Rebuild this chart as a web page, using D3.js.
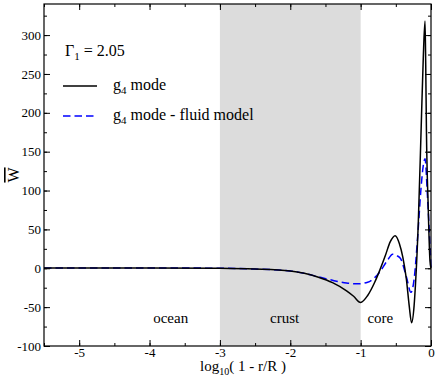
<!DOCTYPE html>
<html>
<head>
<meta charset="utf-8">
<script src="https://cdn.jsdelivr.net/npm/d3@7"></script>
<style>
  body { margin: 0; background: #fff; }
</style>
</head>
<body>
<svg width="436" height="381" style="font-family:'Liberation Serif'"></svg>
<script>
"use strict";

// data
const xTicks = [-5, -4, -3, -2, -1, 0];
const yTicks = [-100, -50, 0, 50, 100, 150, 200, 250, 300];
const crust = [-3, -1];
const regions = [
  { name: "ocean", x: -3.7 },
  { name: "crust", x: -2.08 },
  { name: "core", x: -0.72 }
];

const gMode = [
  [-5.5, 0.5], [-4, 0.5], [-3, 0], [-2.5, -1], [-2, -3.5], [-1.8, -6.5],
  [-1.6, -11.5], [-1.4, -18.5], [-1.2, -29], [-1.1, -36], [-1.0, -44],
  [-0.9, -35], [-0.8, -18], [-0.73, -3], [-0.65, 16], [-0.58, 34],
  [-0.51, 42], [-0.45, 32], [-0.4, 14], [-0.35, -14], [-0.31, -48],
  [-0.276, -70], [-0.24, -48], [-0.22, -20], [-0.18, 60], [-0.14, 180],
  [-0.11, 270], [-0.085, 318], [-0.075, 262], [-0.065, 178], [-0.04, 80],
  [-0.015, 10], [0, 0]
];
const gFluid = [
  [-5.5, 0.5], [-4, 0.5], [-3, 0], [-2.5, -1], [-2, -3.5], [-1.8, -6.5],
  [-1.6, -11], [-1.4, -15.5], [-1.2, -19], [-1.05, -20], [-0.9, -18],
  [-0.8, -12], [-0.73, -5], [-0.62, 10], [-0.545, 18], [-0.48, 16],
  [-0.43, 12], [-0.35, -11], [-0.285, -31], [-0.24, -14], [-0.19, 40],
  [-0.14, 105], [-0.11, 132], [-0.085, 141], [-0.05, 92], [-0.025, 49],
  [0, 0]
];

const SERIF = "'Liberation Serif', 'Times New Roman', serif";
const pLeft = 44, pRight = 431, pTop = 4, pBottom = 346;
const svg = d3.select("svg");

const x = d3.scaleLinear().domain([-5.5, 0]).range([pLeft, pRight]);
const y = d3.scaleLinear().domain([-100, 340]).range([pBottom, pTop]);

// shaded crust band
svg.append("rect")
  .attr("x", x(crust[0]))
  .attr("y", pTop)
  .attr("width", x(crust[1]) - x(crust[0]))
  .attr("height", pBottom - pTop)
  .style("fill", "#dcdcdc");

// region names
svg.selectAll(".region")
  .data(regions)
  .enter().append("text")
  .attr("x", d => x(d.x))
  .attr("y", 323)
  .attr("text-anchor", "middle")
  .style("font-family", SERIF)
  .style("font-size", "15px")
  .text(d => d.name);

// curves
const line = d3.line()
  .x(d => x(d[0]))
  .y(d => y(d[1]))
  .curve(d3.curveMonotoneX);

svg.append("path")
  .datum(gFluid)
  .attr("d", line)
  .style("fill", "none")
  .style("stroke", "#0000ff")
  .style("stroke-width", "1.5px")
  .style("stroke-dasharray", "7.5,4");

svg.append("path")
  .datum(gMode)
  .attr("d", line)
  .style("fill", "none")
  .style("stroke", "black")
  .style("stroke-width", "1.5px");

// axes: ticks point inwards on all four sides
const minorX = d3.range(-5.5, 0.01, 0.5);
const minorY = d3.range(-100, 341, 25);

function styleAxis(g) {
  g.attr("font-family", null);
  g.select(".domain").remove();
  g.selectAll("line").style("stroke", "black");
  g.selectAll("text")
    .style("font-family", SERIF)
    .style("font-size", "13px")
    .style("fill", "black");
}

svg.append("g")
  .attr("transform", `translate(0,${pBottom})`)
  .call(d3.axisBottom(x).tickValues(minorX).tickSize(-3).tickFormat(""))
  .call(styleAxis);
svg.append("g")
  .attr("transform", `translate(0,${pBottom})`)
  .call(d3.axisBottom(x).tickValues(xTicks).tickSize(-6).tickPadding(2).tickFormat(d => String(d)))
  .call(styleAxis);
svg.append("g")
  .attr("transform", `translate(0,${pTop})`)
  .call(d3.axisTop(x).tickValues(minorX).tickSize(-3).tickFormat(""))
  .call(styleAxis);
svg.append("g")
  .attr("transform", `translate(0,${pTop})`)
  .call(d3.axisTop(x).tickValues(xTicks).tickSize(-6).tickFormat(""))
  .call(styleAxis);

svg.append("g")
  .attr("transform", `translate(${pLeft},0)`)
  .call(d3.axisLeft(y).tickValues(minorY).tickSize(-3).tickFormat(""))
  .call(styleAxis);
svg.append("g")
  .attr("transform", `translate(${pLeft},0)`)
  .call(d3.axisLeft(y).tickValues(yTicks).tickSize(-6).tickPadding(3).tickFormat(d => String(d)))
  .call(styleAxis);
svg.append("g")
  .attr("transform", `translate(${pRight},0)`)
  .call(d3.axisRight(y).tickValues(minorY).tickSize(-3).tickFormat(""))
  .call(styleAxis);
svg.append("g")
  .attr("transform", `translate(${pRight},0)`)
  .call(d3.axisRight(y).tickValues(yTicks).tickSize(-6).tickFormat(""))
  .call(styleAxis);

// frame
svg.append("rect")
  .attr("x", pLeft).attr("y", pTop)
  .attr("width", pRight - pLeft).attr("height", pBottom - pTop)
  .style("fill", "none")
  .style("stroke", "black")
  .style("stroke-width", "1.2px");

// axis titles
const xt = svg.append("text")
  .attr("x", 243)
  .attr("y", 371)
  .attr("text-anchor", "middle")
  .style("font-family", SERIF)
  .style("font-size", "15px");
xt.append("tspan").text("log");
xt.append("tspan").attr("dy", 4).style("font-size", "10px").text("10");
xt.append("tspan").attr("dy", -4).text("( 1 - r/R )");

svg.append("text")
  .attr("transform", "translate(19,175) rotate(-90)")
  .attr("text-anchor", "middle")
  .style("font-family", SERIF)
  .style("font-size", "16px")
  .style("text-decoration", "overline")
  .text("W");

// legend
const gam = svg.append("text")
  .attr("x", 65).attr("y", 56)
  .style("font-family", SERIF)
  .style("font-size", "16px");
gam.append("tspan").text("Γ");
gam.append("tspan").attr("dy", 4).style("font-size", "11px").text("1");
gam.append("tspan").attr("dy", -4).text(" = 2.05");

const legend = [
  { label: " mode", y: 86, color: "black", dash: null },
  { label: " mode - fluid model", y: 116, color: "#0000ff", dash: "7.5,4" }
];
legend.forEach(d => {
  svg.append("line")
    .attr("x1", 63).attr("x2", 97)
    .attr("y1", d.y).attr("y2", d.y)
    .style("stroke", d.color)
    .style("stroke-width", "1.5px")
    .style("stroke-dasharray", d.dash);
  const t = svg.append("text")
    .attr("x", 113).attr("y", d.y + 4)
    .style("font-family", SERIF)
    .style("font-size", "16px");
  t.append("tspan").text("g");
  t.append("tspan").attr("dy", 4).style("font-size", "11px").text("4");
  t.append("tspan").attr("dy", -4).text(d.label);
});
</script>
</body>
</html>
